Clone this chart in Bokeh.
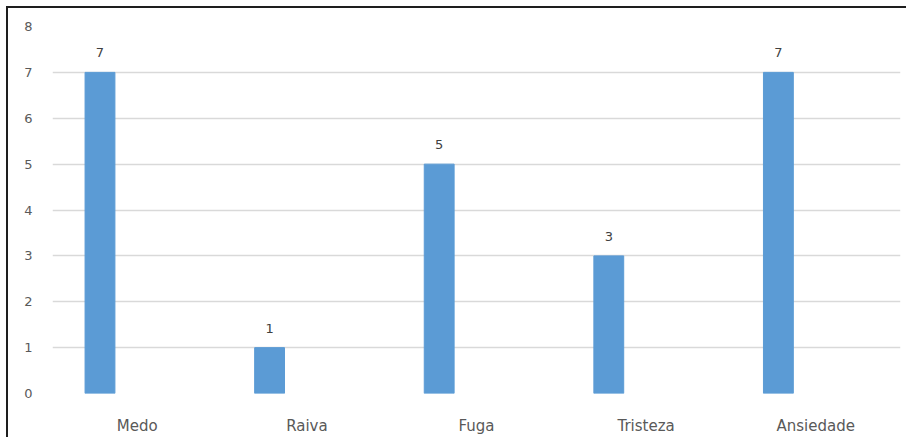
from bokeh.plotting import figure
from bokeh.models import ColumnDataSource, FactorRange, Range1d, FixedTicker
from bokeh.transform import dodge
from bokeh.core.properties import value
from bokeh.embed import file_html
from bokeh.resources import INLINE

# Reações observadas e número de ocorrências
categorias = ["Medo", "Raiva", "Fuga", "Tristeza", "Ansiedade"]
ocorrencias = [7, 1, 5, 3, 7]
y_ticks = [0, 1, 2, 3, 4, 5, 6, 7, 8]

src = ColumnDataSource(dict(
    cat=categorias,
    val=ocorrencias,
    lbl=[str(v) for v in ocorrencias],
))

p = figure(
    x_range=FactorRange(*categorias, range_padding=0),
    y_range=Range1d(0, 8),
    width=900, height=431,
    output_backend="svg", toolbar_location=None,
    min_border_left=44, min_border_right=8,
    min_border_top=18, min_border_bottom=46,
    background_fill_color="white", border_fill_color="white",
)
p.margin = (6, 0, 0, 6)
p.styles = {"border-left": "2px solid #1e1e1e", "border-top": "2px solid #1e1e1e"}
p.outline_line_color = None

bar_x = dodge("cat", -0.22, range=p.x_range)
p.vbar(x=bar_x, top="val", width=0.176, bottom=0, source=src,
       fill_color="#5B9BD5", line_color="#5B9BD5")

p.text(x=bar_x, y="val", text="lbl", source=src,
       text_align="center", text_baseline="bottom", y_offset=-15,
       text_font=value("DejaVu Sans"), text_font_size="13px",
       text_color="#404040")

p.yaxis.ticker = FixedTicker(ticks=y_ticks)
p.yaxis.axis_line_color = None
p.yaxis.major_tick_line_color = None
p.yaxis.minor_tick_line_color = None
p.yaxis.major_label_standoff = 14
p.yaxis.major_label_text_font = "DejaVu Sans"
p.yaxis.major_label_text_font_size = "13px"
p.yaxis.major_label_text_color = "#595959"

p.xaxis.axis_line_color = None
p.xaxis.major_tick_line_color = None
p.xaxis.minor_tick_line_color = None
p.xaxis.major_label_standoff = 17
p.xaxis.major_label_text_font = "DejaVu Sans"
p.xaxis.major_label_text_font_size = "15px"
p.xaxis.major_label_text_color = "#595959"

p.xgrid.grid_line_color = None
p.ygrid.grid_line_color = "#D9D9D9"
p.ygrid.grid_line_width = 1.5

open("out.html", "w").write(file_html(p, INLINE))
